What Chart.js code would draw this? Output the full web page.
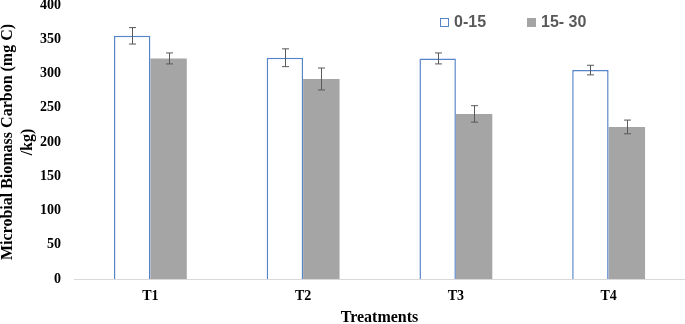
<!DOCTYPE html>
<html>
<head>
<meta charset="utf-8">
<script src="https://cdn.jsdelivr.net/npm/chart.js@4"></script>
<style>
  body { margin: 0; background: #fff; }
  #wrap { width: 685px; height: 324px; }
</style>
</head>
<body>
<div id="wrap"><canvas id="mbcChart" width="685" height="324"></canvas></div>
<script>
// data
const treatments = ['T1', 'T2', 'T3', 'T4'];
const depth0to15 = [355, 323, 322, 305];
const depth15to30 = [322, 292, 241, 222];
const err0to15 = [12, 13, 8, 7];
const err15to30 = [8, 16, 12, 10];
const seriesNames = ['0-15', '15- 30'];

const blue = '#5584c8';
const grey = '#a5a5a5';
const serif = '"Liberation Serif", "Times New Roman", serif';

// draws the error bars on top of each bar
const errorBars = {
  id: 'errorBars',
  afterDatasetsDraw(chart) {
    const ctx = chart.ctx;
    const y = chart.scales.y;
    chart.data.datasets.forEach((ds, i) => {
      const meta = chart.getDatasetMeta(i);
      meta.data.forEach((bar, j) => {
        const v = ds.data[j];
        const e = ds.errors[j];
        const top = y.getPixelForValue(v + e);
        const bot = y.getPixelForValue(v - e);
        const x = Math.round(bar.x) + 0.5;
        ctx.save();
        ctx.strokeStyle = '#595959';
        ctx.lineWidth = 1;
        ctx.beginPath();
        ctx.moveTo(x, top);
        ctx.lineTo(x, bot);
        ctx.moveTo(x - 3.5, top);
        ctx.lineTo(x + 3.5, top);
        ctx.moveTo(x - 3.5, bot);
        ctx.lineTo(x + 3.5, bot);
        ctx.stroke();
        ctx.restore();
      });
    });
  }
};

// legend sits inside the plot, top right
const insideLegend = {
  id: 'insideLegend',
  afterDraw(chart) {
    const ctx = chart.ctx;
    const items = [
      { x: 440, fill: '#ffffff', stroke: blue, text: seriesNames[0] },
      { x: 527, fill: grey, stroke: null, text: seriesNames[1] }
    ];
    ctx.save();
    ctx.font = 'bold 16px "Liberation Sans", Arial, sans-serif';
    ctx.textBaseline = 'middle';
    items.forEach(it => {
      ctx.fillStyle = it.fill;
      ctx.fillRect(it.x, 18, 9, 9);
      if (it.stroke) {
        ctx.strokeStyle = it.stroke;
        ctx.lineWidth = 1;
        ctx.strokeRect(it.x + 0.5, 18.5, 8, 8);
      }
      ctx.fillStyle = '#595959';
      ctx.fillText(it.text, it.x + 14, 23);
    });
    ctx.restore();
  }
};

new Chart(document.getElementById('mbcChart'), {
  type: 'bar',
  data: {
    labels: treatments,
    datasets: [
      {
        label: seriesNames[0],
        data: depth0to15,
        errors: err0to15,
        backgroundColor: '#ffffff',
        borderColor: blue,
        borderWidth: 1.5,
        categoryPercentage: 0.477,
        barPercentage: 1
      },
      {
        label: seriesNames[1],
        data: depth15to30,
        errors: err15to30,
        backgroundColor: grey,
        borderWidth: 0,
        categoryPercentage: 0.477,
        barPercentage: 1
      }
    ]
  },
  options: {
    responsive: false,
    animation: false,
    layout: { padding: { top: 5, right: 0, left: 0, bottom: 0 } },
    plugins: {
      legend: { display: false },
      tooltip: { enabled: false }
    },
    scales: {
      x: {
        grid: { display: false, drawTicks: false },
        border: { display: true, color: '#d9d9d9', width: 1 },
        ticks: {
          color: '#000',
          padding: 9,
          font: { family: serif, size: 14, weight: 'bold' }
        },
        title: {
          display: true,
          text: 'Treatments',
          color: '#000',
          padding: { top: 0, bottom: -2 },
          font: { family: serif, size: 16, weight: 'bold', lineHeight: 1 }
        },
        afterFit(scale) {
          scale.height = 45;
        }
      },
      y: {
        min: 0,
        max: 400,
        ticks: {
          stepSize: 50,
          color: '#000',
          padding: 13,
          font: { family: serif, size: 14, weight: 'bold' }
        },
        grid: { display: false, drawTicks: false },
        border: { display: false },
        title: {
          display: true,
          text: ['Microbial Biomass Carbon (mg C)', '/kg)'],
          color: '#000',
          padding: { top: -2, bottom: 0 },
          font: { family: serif, size: 16, weight: 'bold', lineHeight: 1.25 }
        },
        afterFit(scale) {
          scale.width = 74;
          scale.paddingTop = 0;
          scale.paddingBottom = 0;
        }
      }
    }
  },
  plugins: [errorBars, insideLegend]
});
</script>
</body>
</html>
